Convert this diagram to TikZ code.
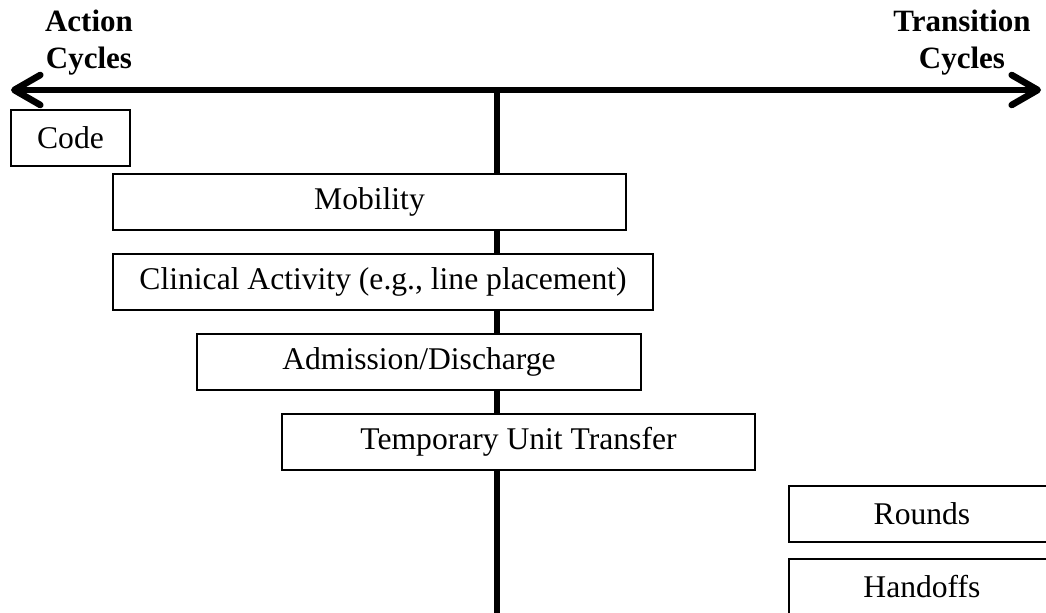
\documentclass[tikz,border=0pt]{standalone}
\usepackage{fontspec}
\setmainfont{Liberation Serif}
\usetikzlibrary{arrows.meta}

\tikzset{
  cyclebox/.style={draw, line width=1pt, fill=white, inner sep=0pt, minimum height=28pt},
  axislabel/.style={font=\fontsize{15.5}{18.5}\selectfont\bfseries, align=center, inner sep=0pt},
  thickline/.style={line width=3.3pt},
}

\begin{document}
\begin{tikzpicture}[x=0.5pt,y=-0.5pt, font=\fontsize{15.8}{18.5}\selectfont]
\useasboundingbox (0,0) rectangle (1046,613);
\clip (0,0) rectangle (1046,613);

\coordinate (left) at (11,90);
\coordinate (right) at (1041,90);
\coordinate (spinetop) at (497,90);
\coordinate (spinebot) at (497,620);

\draw [thickline] (spinetop) -- (spinebot); %vert line
\draw [thickline, {Straight Barb[length=13pt,width=15pt,line cap=round,line join=round]}-{Straight Barb[length=13pt,width=15pt,line cap=round,line join=round]}] (left) -- (right); %hori axis

\node[axislabel] (action) at (89,43) {Action\\Cycles};
\node[axislabel] (transition) at (962,43) {Transition\\Cycles};

\node[cyclebox, minimum width=59.5pt] (code) at (70.5,138) {Code};
\node[cyclebox, minimum width=256.5pt] (mobility) at (369.5,202) {Mobility};
\node[cyclebox, minimum width=270pt] (clinical) at (383,282) {Clinical Activity (e.g., line placement)};
\node[cyclebox, minimum width=222pt] (admission) at (419,362) {Admission/Discharge};
\node[cyclebox, minimum width=236.5pt] (transfer) at (518.5,442) {Temporary Unit Transfer};

\node[cyclebox, minimum width=133pt] (rounds) at (922,514) {Rounds};
\node[cyclebox, minimum width=133pt] (handoffs) at (922,587) {Handoffs};
\end{tikzpicture}
\end{document}
